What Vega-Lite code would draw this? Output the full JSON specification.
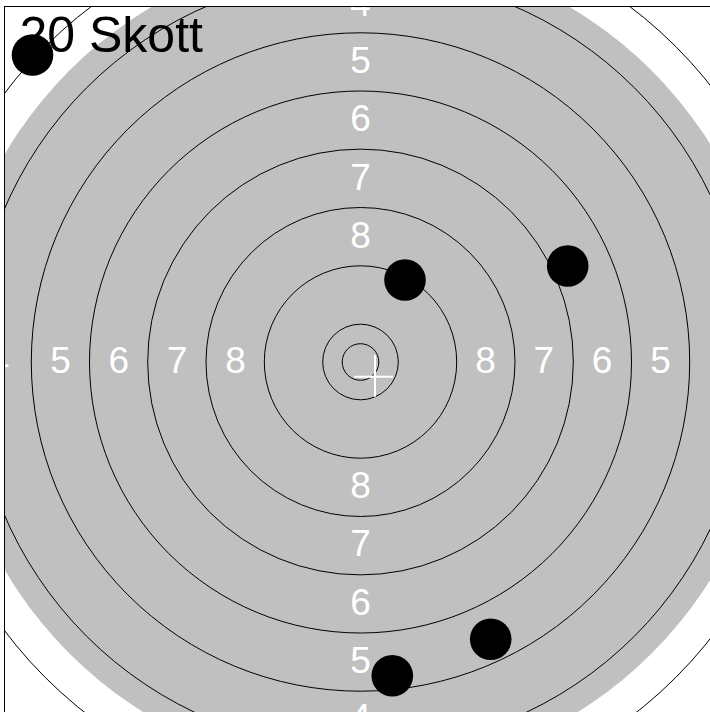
{
  "$schema": "https://vega.github.io/schema/vega-lite/v6.json",
  "width": 706,
  "height": 706,
  "autosize": "none",
  "padding": {"left": 4, "top": 6, "right": 0, "bottom": 0},
  "background": "white",
  "config": {"view": {"stroke": null}},
  "datasets": {
    "disk": [{"r": 412}],
    "rings": [
      {"r": 18.3}, {"r": 37.8}, {"r": 96.2}, {"r": 154.5}, {"r": 212.8},
      {"r": 271}, {"r": 329.2}, {"r": 387.6}, {"r": 446}, {"r": 504.4}
    ],
    "labels": [
      {"label": "4", "x": -361.5, "y": 0}, {"label": "5", "x": -300, "y": 0}, {"label": "6", "x": -241.6, "y": 0}, {"label": "7", "x": -183.3, "y": 0}, {"label": "8", "x": -125, "y": 0},
      {"label": "4", "x": 361.5, "y": 0}, {"label": "5", "x": 300, "y": 0}, {"label": "6", "x": 241.6, "y": 0}, {"label": "7", "x": 183.3, "y": 0}, {"label": "8", "x": 125, "y": 0},
      {"label": "4", "x": 0, "y": 357}, {"label": "5", "x": 0, "y": 300}, {"label": "6", "x": 0, "y": 241.6}, {"label": "7", "x": 0, "y": 183.3}, {"label": "8", "x": 0, "y": 125},
      {"label": "4", "x": 0, "y": -357}, {"label": "5", "x": 0, "y": -300}, {"label": "6", "x": 0, "y": -241.6}, {"label": "7", "x": 0, "y": -183.3}, {"label": "8", "x": 0, "y": -125}
    ],
    "cross": [
      {"x": -6.5, "x2": 32.5, "y": -14.7, "y2": -14.7},
      {"x": 14.5, "x2": 14.5, "y": 7, "y2": -34.7}
    ],
    "shots": [
      {"x": -328, "y": 307},
      {"x": 44.5, "y": 82},
      {"x": 207.2, "y": 96},
      {"x": 130.2, "y": -277.3},
      {"x": 31.8, "y": -313.7}
    ],
    "title": [{"text": "20 Skott", "x": -341, "y": 310}],
    "frame": [
      {"x": -356, "x2": -356, "y": -350, "y2": 356},
      {"x": -356.5, "x2": 349.5, "y": 355.5, "y2": 355.5}
    ]
  },
  "layer": [
    {
      "data": {"name": "disk"},
      "mark": {"type": "point", "shape": "circle", "filled": true, "fill": "#c0c0c0", "opacity": 1, "strokeWidth": 0, "clip": true},
      "encoding": {
        "x": {"datum": 0, "type": "quantitative", "scale": {"domain": [-356.5, 349.5], "nice": false, "zero": false}, "axis": null},
        "y": {"datum": 0, "type": "quantitative", "scale": {"domain": [-350, 356], "nice": false, "zero": false}, "axis": null},
        "size": {"field": "r", "type": "quantitative", "scale": {"type": "pow", "exponent": 2, "domain": [0, 1000], "range": [0, 4000000]}, "legend": null}
      }
    },
    {
      "data": {"name": "rings"},
      "mark": {"type": "point", "shape": "circle", "filled": false, "stroke": "black", "strokeWidth": 1, "opacity": 1, "clip": true},
      "encoding": {
        "x": {"datum": 0, "type": "quantitative", "scale": {"domain": [-356.5, 349.5], "nice": false, "zero": false}, "axis": null},
        "y": {"datum": 0, "type": "quantitative", "scale": {"domain": [-350, 356], "nice": false, "zero": false}, "axis": null},
        "size": {"field": "r", "type": "quantitative", "scale": {"type": "pow", "exponent": 2, "domain": [0, 1000], "range": [0, 4000000]}, "legend": null}
      }
    },
    {
      "data": {"name": "labels"},
      "mark": {"type": "text", "color": "white", "font": "Liberation Sans", "fontSize": 37, "align": "center", "baseline": "middle", "clip": true},
      "encoding": {
        "x": {"field": "x", "type": "quantitative", "scale": {"domain": [-356.5, 349.5], "nice": false, "zero": false}, "axis": null},
        "y": {"field": "y", "type": "quantitative", "scale": {"domain": [-350, 356], "nice": false, "zero": false}, "axis": null},
        "text": {"field": "label"}
      }
    },
    {
      "data": {"name": "cross"},
      "mark": {"type": "rule", "color": "white", "strokeWidth": 2},
      "encoding": {
        "x": {"field": "x", "type": "quantitative", "scale": {"domain": [-356.5, 349.5], "nice": false, "zero": false}, "axis": null},
        "x2": {"field": "x2"},
        "y": {"field": "y", "type": "quantitative", "scale": {"domain": [-350, 356], "nice": false, "zero": false}, "axis": null},
        "y2": {"field": "y2"}
      }
    },
    {
      "data": {"name": "shots"},
      "mark": {"type": "point", "shape": "circle", "filled": true, "color": "black", "opacity": 1, "size": 1731, "clip": true},
      "encoding": {
        "x": {"field": "x", "type": "quantitative", "scale": {"domain": [-356.5, 349.5], "nice": false, "zero": false}, "axis": null},
        "y": {"field": "y", "type": "quantitative", "scale": {"domain": [-350, 356], "nice": false, "zero": false}, "axis": null}
      }
    },
    {
      "data": {"name": "title"},
      "mark": {"type": "text", "color": "black", "font": "Liberation Sans", "fontSize": 50, "align": "left", "baseline": "alphabetic"},
      "encoding": {
        "x": {"field": "x", "type": "quantitative", "scale": {"domain": [-356.5, 349.5], "nice": false, "zero": false}, "axis": null},
        "y": {"field": "y", "type": "quantitative", "scale": {"domain": [-350, 356], "nice": false, "zero": false}, "axis": null},
        "text": {"field": "text"}
      }
    },
    {
      "data": {"name": "frame"},
      "mark": {"type": "rule", "color": "black", "strokeWidth": 1},
      "encoding": {
        "x": {"field": "x", "type": "quantitative", "scale": {"domain": [-356.5, 349.5], "nice": false, "zero": false}, "axis": null},
        "x2": {"field": "x2"},
        "y": {"field": "y", "type": "quantitative", "scale": {"domain": [-350, 356], "nice": false, "zero": false}, "axis": null},
        "y2": {"field": "y2"}
      }
    }
  ]
}
